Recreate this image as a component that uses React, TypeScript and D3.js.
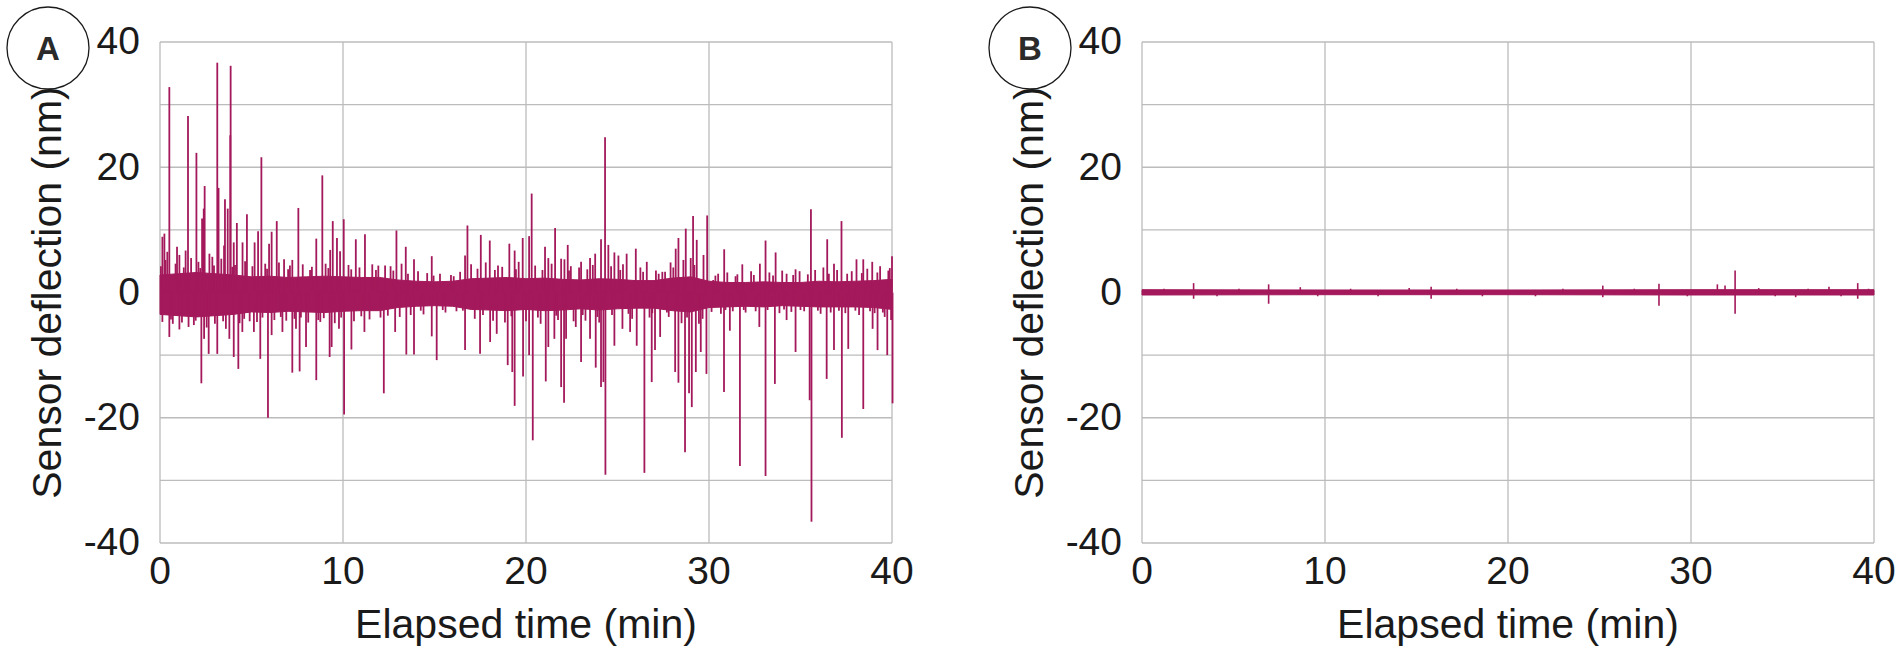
import * as d3 from 'd3'

// layout of the two panels (px)
const W = 1902
const H = 657
const PLOT_TOP = 42
const PLOT_BOTTOM = 543
const PLOT_W = 732
const PANEL_LEFTS = [160, 1142]

const COLOR = '#a3195b'
const GRID = '#bcbcbc'
const FONT = '"Liberation Sans", Arial, Helvetica, sans-serif'

const timeTicks = [0, 10, 20, 30, 40]
const timeGrid = [0, 10, 20, 30, 40]
const deflectionTicks = [-40, -20, 0, 20, 40]
const deflectionGrid = [-40, -30, -20, -10, 0, 10, 20, 30, 40]

// panel A: noise band envelope, one value per minute
const bandTimesA = [0, 1, 2, 3, 4, 5, 6, 7, 8, 9, 10, 11, 12, 13, 14, 15, 16, 17, 18, 19, 20,
  21, 22, 23, 24, 25, 26, 27, 28, 29, 30, 31, 32, 33, 34, 35, 36, 37, 38, 39, 40]
const bandUpperA = [2.8, 3.0, 3.2, 3.0, 2.8, 2.5, 2.6, 2.4, 2.5, 2.6, 2.5, 2.4, 2.4, 2.0, 1.8, 1.7, 1.8, 2.2, 2.3, 2.4, 2.2,
  2.3, 2.1, 2.0, 2.2, 2.1, 1.9, 1.9, 2.3, 2.5, 1.8, 1.6, 1.6, 1.7, 1.6, 1.6, 1.8, 1.7, 1.8, 1.9, 2.1]
const bandLowerA = [-3.5, -3.7, -3.9, -3.7, -3.5, -3.1, -3.2, -3.0, -3.1, -3.2, -3.0, -2.9, -2.9, -2.4, -2.2, -2.1, -2.2, -2.7, -2.8, -2.9, -2.7,
  -2.9, -2.8, -2.6, -2.8, -2.6, -2.5, -2.5, -2.9, -3.1, -2.4, -2.3, -2.2, -2.3, -2.1, -2.2, -2.3, -2.3, -2.3, -2.4, -2.7]

// panel A: spikes [min, nm]
const spikesUpA: [number, number][] = [
  [0.13, 8.9], [0.24, 9.4], [0.4, 6.5], [0.51, 32.8], [0.93, 7.3], [1.06, 6.0], [1.4, 6.7], [1.53, 28.2],
  [1.99, 22.3], [2.3, 11.8], [2.39, 13.4], [2.44, 17.0], [2.86, 5.7], [3.13, 36.7], [3.2, 16.7], [3.5, 7.5],
  [3.55, 14.9], [3.7, 13.4], [3.84, 25.1], [3.86, 36.2], [4.03, 8.0], [4.2, 11.1], [4.51, 8.0], [4.75, 12.5],
  [5.17, 8.0], [5.36, 9.8], [5.54, 21.6], [5.96, 7.8], [6.1, 9.7], [6.38, 11.4], [6.78, 5.3], [7.23, 5.2],
  [7.56, 13.5], [8.54, 8.6], [8.87, 18.7], [9.3, 6.8], [9.44, 11.4], [9.67, 8.7], [9.84, 6.6], [10.04, 11.7],
  [10.7, 8.5], [11.2, 9.3], [11.93, 4.3], [12.3, 4.3], [12.92, 9.9], [13.43, 7.3], [13.88, 5.3], [14.85, 5.8],
  [16.67, 5.9], [16.8, 10.7], [17.53, 9.2], [18.02, 8.3], [18.47, 4.3], [19.09, 7.8], [19.38, 6.7], [19.82, 8.7],
  [20.17, 9.0], [20.31, 15.8], [21.04, 7.3], [21.22, 5.5], [21.59, 10.3], [21.92, 5.4], [22.1, 5.3], [22.28, 7.6],
  [23.01, 4.9], [23.5, 5.5], [23.78, 6.2], [24.1, 8.5], [24.32, 24.8], [24.5, 7.6], [24.83, 6.4], [25.05, 5.9],
  [25.5, 6.2], [26.0, 7.0], [26.6, 4.9], [27.6, 3.3], [28.18, 7.0], [28.33, 8.7], [28.73, 10.2], [29.13, 12.2],
  [29.33, 8.4], [29.9, 12.3], [30.23, 2.0], [30.83, 6.9], [31.82, 4.5], [32.78, 4.6], [33.09, 8.3], [33.64, 6.4],
  [34.24, 3.0], [34.73, 3.7], [35.57, 13.3], [36.46, 8.5], [36.83, 4.6], [37.24, 11.4], [38.06, 5.3], [38.43, 5.3],
  [38.92, 4.9], [39.88, 3.9], [40.0, 5.8],
]
const spikesDownA: [number, number][] = [
  [0.13, -4.7], [0.51, -7.1], [1.06, -5.9], [1.56, -5.5], [2.26, -14.5], [2.41, -7.4], [2.66, -9.8], [3.13, -9.8],
  [3.79, -7.4], [4.03, -10.3], [4.28, -12.2], [4.5, -6.3], [5.13, -6.3], [5.48, -10.6], [5.9, -20.0], [6.1, -6.8],
  [6.69, -6.3], [7.23, -12.8], [7.43, -5.8], [7.63, -12.6], [7.98, -8.7], [8.54, -14.0], [8.76, -4.7], [9.27, -10.3],
  [9.38, -8.7], [9.78, -5.8], [10.06, -19.5], [10.46, -9.1], [11.17, -6.3], [12.23, -16.1], [12.85, -6.3], [13.46, -9.9],
  [13.88, -9.9], [14.85, -7.0], [15.12, -10.8], [16.67, -9.2], [17.49, -9.8], [18.04, -7.9], [18.4, -6.6], [19.0, -11.6],
  [19.25, -12.7], [19.38, -18.1], [19.84, -13.4], [20.17, -10.0], [20.37, -23.6], [21.08, -14.2], [21.22, -8.7], [21.55, -7.4],
  [21.92, -15.1], [22.08, -17.6], [22.19, -7.4], [22.72, -5.5], [23.01, -11.1], [23.5, -7.4], [23.81, -12.0], [24.1, -15.1],
  [24.23, -14.3], [24.34, -29.1], [24.83, -8.5], [25.27, -5.8], [25.69, -6.3], [26.05, -8.5], [26.47, -28.8], [26.87, -14.3],
  [27.05, -9.2], [27.33, -7.1], [28.15, -12.7], [28.33, -14.4], [28.69, -25.5], [28.91, -16.1], [29.06, -18.3], [29.28, -12.7],
  [29.55, -9.5], [29.86, -13.0], [30.14, -3.1], [30.82, -15.9], [31.14, -6.1], [31.69, -27.7], [32.75, -5.5], [33.09, -29.3],
  [33.6, -14.6], [34.24, -4.4], [34.73, -9.5], [35.5, -17.2], [35.6, -36.6], [36.43, -13.8], [36.83, -9.2], [37.26, -23.2],
  [37.61, -9.0], [38.43, -18.6], [38.94, -5.8], [39.21, -9.2], [39.74, -10.0], [40.03, -17.7],
]
// small excursions along the edge of the band
const fuzzA: [number, number][] = [
  [0.3, 5.2], [0.7, -5.0], [0.85, 4.6], [1.2, -4.8], [1.7, 5.5], [1.85, -5.2], [2.1, 4.9], [2.55, -5.6], [2.7, 6.2],
  [3.0, -5.0], [3.35, 5.4], [3.6, -5.8], [4.1, 4.4], [4.35, -4.9], [4.65, 5.0], [4.9, -4.6], [5.05, 4.2], [5.3, -4.7],
  [5.75, 4.6], [6.25, -4.4], [6.5, 4.8], [6.9, -4.5], [7.1, 4.3], [7.35, -4.2], [7.8, 4.5], [8.1, -4.8], [8.3, 4.1],
  [8.65, -4.4], [9.05, 4.6], [9.55, -4.9], [10.3, 4.4], [10.6, -4.6], [10.9, 4.0], [11.45, -4.3], [11.6, 4.5], [12.05, -4.0],
  [12.6, 4.2], [13.1, -3.9], [13.2, 4.6], [13.7, -3.6], [14.1, 3.4], [14.4, -3.5], [14.6, 3.1], [15.3, 3.0], [15.6, -3.2],
  [15.9, 2.8], [16.2, -3.0], [16.4, 3.3], [17.0, 4.5], [17.2, -4.2], [17.8, 4.8], [18.2, -4.5], [18.7, 4.1], [18.85, -4.8],
  [19.6, 4.9], [20.0, -4.6], [20.5, 4.3], [20.8, -5.0], [21.4, 4.6], [21.75, -4.4], [22.45, 4.2], [22.6, -4.6], [22.9, 4.0],
  [23.25, -4.5], [23.65, 4.4], [24.0, -4.8], [24.65, 4.2], [25.3, 4.5], [25.8, -4.2], [26.25, 4.0], [26.75, -4.0], [27.1, 3.5],
  [27.45, 3.3], [27.8, -3.9], [27.9, 4.8], [28.5, -4.9], [28.6, 5.2], [29.0, 5.5], [29.45, -5.0], [29.7, 6.0], [30.5, 3.0],
  [30.65, -3.4], [31.0, 3.2], [31.3, -3.0], [31.55, 2.9], [32.0, -3.2], [32.3, 3.4], [32.55, -3.0], [33.3, 3.2], [33.85, -3.3],
  [34.0, 3.5], [34.5, -3.1], [34.95, 3.4], [35.2, -3.0], [35.8, 3.6], [36.1, -3.4], [36.25, 4.0], [36.65, -3.2], [37.0, 3.6],
  [37.45, -3.3], [37.8, 3.4], [38.2, -3.6], [38.65, 3.8], [39.05, -3.3], [39.35, 4.2], [39.6, -3.9], [39.95, -4.4],
  [0.05, 4.2], [0.6, -4.3], [1.3, 4.0], [1.95, -4.5], [2.2, 3.9], [2.95, 4.3], [3.45, -4.6], [3.95, 4.1], [4.6, -4.2],
  [5.6, -4.0], [5.85, 3.8], [6.6, -3.9], [7.0, 3.7], [7.7, -4.0], [8.2, 3.6], [8.95, -4.1], [9.2, 3.9], [9.9, -4.0],
  [10.45, 3.7], [11.0, -3.8], [11.8, 3.6], [12.45, -3.7], [12.75, 3.5], [13.55, 3.0], [14.25, -2.9], [14.95, 2.7],
  [15.45, -2.8], [16.05, 2.6], [16.55, -2.9], [17.35, 3.8], [17.65, -3.6], [18.3, 3.6], [19.2, -3.8], [19.45, 3.7],
  [20.65, -4.0], [20.9, 3.6], [21.65, -3.7], [22.35, 3.5], [23.1, -3.6], [23.35, 3.7], [23.9, -3.9], [24.7, -3.6],
  [25.15, 3.6], [25.6, -3.4], [26.4, 3.3], [26.9, -3.3], [27.25, 3.0], [27.7, -3.2], [28.05, 4.0], [28.8, -4.0],
  [29.2, 4.4], [29.65, -4.2], [30.35, 2.7], [30.9, -2.8], [31.45, 2.6], [31.9, -2.8], [32.45, 2.8], [33.2, -2.8],
  [33.5, 2.7], [34.1, -2.7], [34.6, 2.8], [35.0, -2.8], [35.4, 2.9], [35.95, -2.9], [36.55, 3.0], [37.1, -2.9],
  [37.55, 3.0], [38.0, -2.9], [38.35, 3.1], [38.8, -3.0], [39.2, 3.2], [39.5, -3.2], [39.8, 3.5],
]

// panel B: much quieter
const bandTimesB = [0, 10, 20, 30, 40]
const bandUpperB = [0.45, 0.4, 0.4, 0.45, 0.45]
const bandLowerB = [-0.4, -0.35, -0.35, -0.4, -0.4]
const spikesB: [number, number][] = [
  [2.82, 1.5], [2.82, -1.0], [6.92, 1.3], [6.92, -1.8], [8.65, 0.85], [14.6, 0.7], [15.8, 0.9], [15.8, -1.0],
  [18.6, -0.6], [25.18, 1.1], [25.18, -0.75], [28.25, 1.4], [28.25, -2.1], [31.44, 1.3], [31.86, 1.1],
  [32.41, 3.5], [32.41, -3.4], [35.72, -0.75], [37.54, 0.9], [39.11, 1.5], [39.11, -1.0],
]
const fuzzB: [number, number][] = [
  [1.2, 0.6], [4.1, -0.6], [5.3, 0.6], [9.6, -0.6], [11.4, 0.6], [12.9, -0.6], [17.2, 0.6], [21.5, -0.6],
  [23.0, 0.6], [26.9, 0.6], [29.8, -0.6], [33.7, 0.7], [34.6, -0.6], [36.4, 0.6], [38.2, -0.6], [39.7, 0.6],
]

type PanelProps = {
  left: number
  label: string
  bandTimes: number[]
  bandUpper: number[]
  bandLower: number[]
  spikes: [number, number][]
  spikeWidth: number
}

function Panel({ left, label, bandTimes, bandUpper, bandLower, spikes, spikeWidth }: PanelProps) {
  const x = d3.scaleLinear().domain([0, 40]).range([left, left + PLOT_W])
  const y = d3.scaleLinear().domain([-40, 40]).range([PLOT_BOTTOM, PLOT_TOP])

  const area = d3.area<number>()
    .x((_, i) => x(bandTimes[i]))
    .y0((_, i) => y(bandLower[i]))
    .y1((_, i) => y(bandUpper[i]))

  const midY = (PLOT_TOP + PLOT_BOTTOM) / 2

  return (
    <g>
      {/* grid */}
      {deflectionGrid.map(v => (
        <line key={'h' + v} x1={left} x2={left + PLOT_W} y1={y(v)} y2={y(v)} stroke={GRID} strokeWidth={1.3} />
      ))}
      {timeGrid.map(t => (
        <line key={'v' + t} x1={x(t)} x2={x(t)} y1={PLOT_TOP} y2={PLOT_BOTTOM} stroke={GRID} strokeWidth={1.3} />
      ))}

      {/* signal */}
      <path d={area(bandTimes) || ''} fill={COLOR} stroke={COLOR} strokeWidth={1} />
      {spikes.map(([t, v], i) => (
        <line key={'s' + i} x1={x(t)} x2={x(t)} y1={y(0)} y2={y(v)} stroke={COLOR} strokeWidth={spikeWidth} />
      ))}

      {/* tick labels */}
      {deflectionTicks.map(v => (
        <text key={'yt' + v} x={left - 20} y={y(v)} dy="0.32em" textAnchor="end" fontSize={39} fill="#1a1a1a">
          {v}
        </text>
      ))}
      {timeTicks.map(t => (
        <text key={'xt' + t} x={x(t)} y={584} textAnchor="middle" fontSize={39} fill="#1a1a1a">
          {t}
        </text>
      ))}

      {/* axis titles */}
      <text x={left + PLOT_W / 2} y={638} textAnchor="middle" fontSize={41} fill="#1a1a1a">
        Elapsed time (min)
      </text>
      <text
        transform={`translate(${left - 99},${midY}) rotate(-90)`}
        textAnchor="middle"
        fontSize={41}
        fill="#1a1a1a"
      >
        Sensor deflection (nm)
      </text>

      {/* panel letter */}
      <circle cx={left - 112} cy={48} r={41} fill="white" stroke="#1a1a1a" strokeWidth={1.3} />
      <text x={left - 112} y={48} dy="0.36em" textAnchor="middle" fontSize={33} fontWeight="bold" fill="#2a2a2a">
        {label}
      </text>
    </g>
  )
}

export default function App() {
  return (
    <>
      <style>{'body{margin:0;overflow:hidden}'}</style>
      <svg width={W} height={H} style={{ display: 'block', background: 'white', fontFamily: FONT }}>
        <Panel
          left={PANEL_LEFTS[0]}
          label="A"
          bandTimes={bandTimesA}
          bandUpper={bandUpperA}
          bandLower={bandLowerA}
          spikes={[...fuzzA, ...spikesUpA, ...spikesDownA]}
          spikeWidth={1.8}
        />
        <Panel
          left={PANEL_LEFTS[1]}
          label="B"
          bandTimes={bandTimesB}
          bandUpper={bandUpperB}
          bandLower={bandLowerB}
          spikes={[...fuzzB, ...spikesB]}
          spikeWidth={1.6}
        />
      </svg>
    </>
  )
}
